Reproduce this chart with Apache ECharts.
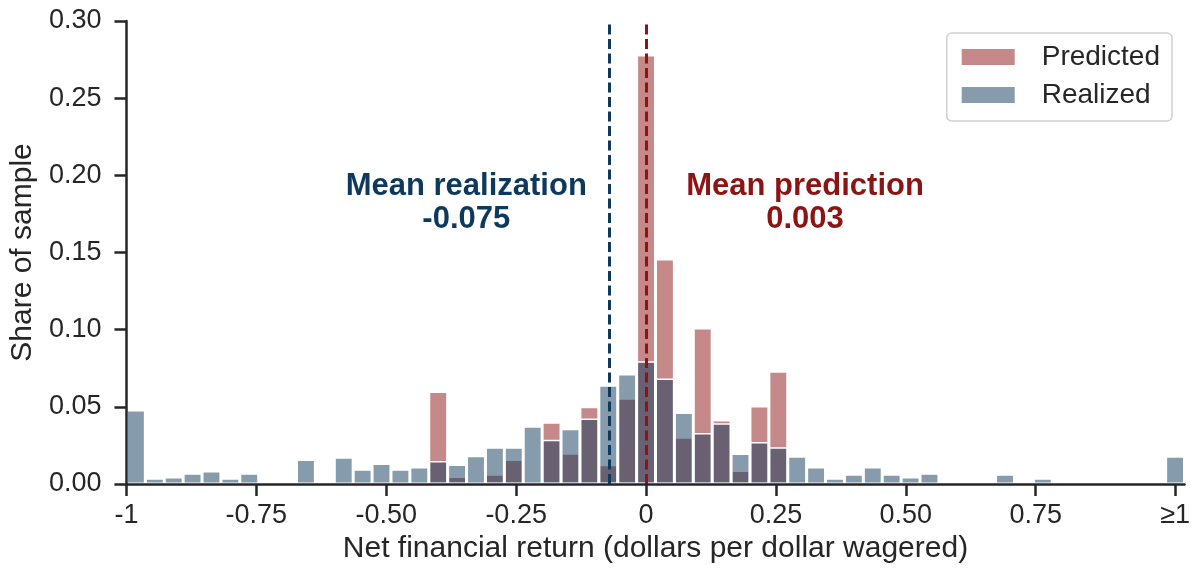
<!DOCTYPE html>
<html>
<head>
<meta charset="utf-8">
<script src="https://cdn.jsdelivr.net/npm/echarts@6/dist/echarts.min.js"></script>
<style>
  html, body { margin: 0; padding: 0; background: #fff; }
  #main { width: 1193px; height: 569px; }
</style>
</head>
<body>
<div id="main"></div>
<script>
// histogram bins: 56 bins of width 2/55 starting at -1 (last bin holds the >=1 values)
var binStart = -1;
var binWidth = 2 / 55;
var binCount = 56;

// share of sample per bin
var predicted = [
  0, 0, 0, 0, 0, 0, 0, 0, 0, 0,
  0, 0, 0, 0, 0, 0, 0.060, 0.0048, 0, 0.0063,
  0.0159, 0, 0.040, 0.020, 0.050, 0.0125, 0.0555, 0.278, 0.1458, 0.0303,
  0.101, 0.0415, 0.0088, 0.0505, 0.073, 0, 0, 0, 0, 0,
  0, 0, 0, 0, 0, 0, 0, 0, 0, 0,
  0, 0, 0, 0, 0, 0
];
var realized = [
  0.048, 0.0037, 0.0046, 0.0069, 0.0085, 0.0037, 0.0069, 0.002, 0, 0.0159,
  0, 0.0174, 0.0095, 0.0133, 0.0095, 0.011, 0.0149, 0.0127, 0.0183, 0.0238,
  0.0238, 0.0375, 0.0287, 0.0358, 0.0424, 0.064, 0.0713, 0.0796, 0.0683, 0.0463,
  0.033, 0.0394, 0.0197, 0.0272, 0.0238, 0.018, 0.011, 0.0037, 0.0063, 0.011,
  0.0063, 0.0046, 0.0069, 0, 0, 0.002, 0.0063, 0, 0.0037, 0,
  0, 0.002, 0.002, 0, 0, 0.018
];

var meanPrediction = 0.003;
var meanRealization = -0.075;

var tickValues = [-1, -0.75, -0.5, -0.25, 0, 0.25, 0.5, 0.75, 1 + binWidth / 2];
var tickLabels = ['-1', '-0.75', '-0.50', '-0.25', '0', '0.25', '0.50', '0.75', '\u22651'];

var redBase = '#8b1414';
var blueBase = '#0d3a5c';
var redFill = 'rgba(139,20,20,0.5)';
var blueFill = 'rgba(13,58,92,0.5)';
var ink = '#262626';
var font = '"Liberation Sans", Arial, sans-serif';

function binData(values) {
  var out = [];
  for (var i = 0; i < binCount; i++) {
    if (values[i] > 0) {
      out.push([binStart + (i + 0.5) * binWidth, values[i]]);
    }
  }
  return out;
}

var chart = echarts.init(document.getElementById('main'), null, { renderer: 'canvas' });

var option = {
  backgroundColor: '#ffffff',
  animation: false,
  textStyle: { fontFamily: font },
  grid: { left: 126, right: 8, top: 21, bottom: 83, containLabel: false },
  legend: {
    orient: 'vertical',
    right: 21,
    top: 33,
    padding: [10, 12, 12, 13],
    itemWidth: 55,
    itemHeight: 18,
    itemGap: 10,
    icon: 'rect',
    backgroundColor: '#ffffff',
    borderColor: '#d0d0d0',
    borderWidth: 1.5,
    borderRadius: 5,
    textStyle: { fontFamily: font, fontSize: 28, color: ink, padding: [0, 0, 0, 21] },
    data: ['Predicted', 'Realized']
  },
  xAxis: {
    type: 'value',
    min: binStart,
    max: binStart + binCount * binWidth,
    z: 5,
    name: 'Net financial return (dollars per dollar wagered)',
    nameLocation: 'middle',
    nameGap: 50,
    nameTextStyle: { fontFamily: font, fontSize: 30, color: ink },
    axisLine: { show: true, onZero: false, lineStyle: { color: ink, width: 2.5 } },
    axisTick: { show: true, length: 12, lineStyle: { color: ink, width: 2.5 }, customValues: tickValues },
    axisLabel: {
      customValues: tickValues,
      fontFamily: font,
      fontSize: 27,
      color: ink,
      margin: 18,
      formatter: function (v) {
        for (var i = 0; i < tickValues.length; i++) {
          if (Math.abs(tickValues[i] - v) < 1e-6) return tickLabels[i];
        }
        return '';
      }
    },
    splitLine: { show: false }
  },
  yAxis: {
    type: 'value',
    min: 0,
    max: 0.3,
    interval: 0.05,
    z: 5,
    name: 'Share of sample',
    nameLocation: 'middle',
    nameGap: 86,
    nameTextStyle: { fontFamily: font, fontSize: 30, color: ink },
    axisLine: { show: true, onZero: false, lineStyle: { color: ink, width: 2.5 } },
    axisTick: { show: true, length: 12, lineStyle: { color: ink, width: 2.5 } },
    axisLabel: {
      fontFamily: font,
      fontSize: 27,
      color: ink,
      margin: 25,
      formatter: function (v) { return v.toFixed(2); }
    },
    splitLine: { show: false }
  },
  series: [
    {
      name: 'Predicted',
      type: 'bar',
      barWidth: '100%',
      barGap: '-100%',
      itemStyle: { color: redFill, borderColor: '#ffffff', borderWidth: 1.5 },
      data: binData(predicted),
      markLine: {
        silent: true,
        symbol: 'none',
        label: { show: false },
        lineStyle: { color: redBase, width: 3, type: [10, 4.5] },
        data: [{ xAxis: meanPrediction }]
      }
    },
    {
      name: 'Realized',
      type: 'bar',
      barWidth: '100%',
      barGap: '-100%',
      itemStyle: { color: blueFill, borderColor: '#ffffff', borderWidth: 1.5 },
      data: binData(realized),
      markLine: {
        silent: true,
        symbol: 'none',
        label: { show: false },
        lineStyle: { color: blueBase, width: 3, type: [10, 4.5] },
        data: [{ xAxis: meanRealization }]
      }
    }
  ]
};

chart.setOption(option);

// annotation text, anchored in data coordinates
var pReal = chart.convertToPixel({ gridIndex: 0 }, [-0.346, 0.1818]);
var pPred = chart.convertToPixel({ gridIndex: 0 }, [0.306, 0.1818]);
chart.setOption({
  graphic: [
    {
      type: 'text',
      x: pReal[0],
      y: pReal[1],
      z: 10,
      style: {
        text: 'Mean realization\n' + meanRealization.toFixed(3),
        fill: blueBase,
        font: 'bold 31px ' + font,
        lineHeight: 33,
        align: 'center',
        verticalAlign: 'middle'
      }
    },
    {
      type: 'text',
      x: pPred[0],
      y: pPred[1],
      z: 10,
      style: {
        text: 'Mean prediction\n' + meanPrediction.toFixed(3),
        fill: redBase,
        font: 'bold 31px ' + font,
        lineHeight: 33,
        align: 'center',
        verticalAlign: 'middle'
      }
    }
  ]
});
</script>
</body>
</html>
